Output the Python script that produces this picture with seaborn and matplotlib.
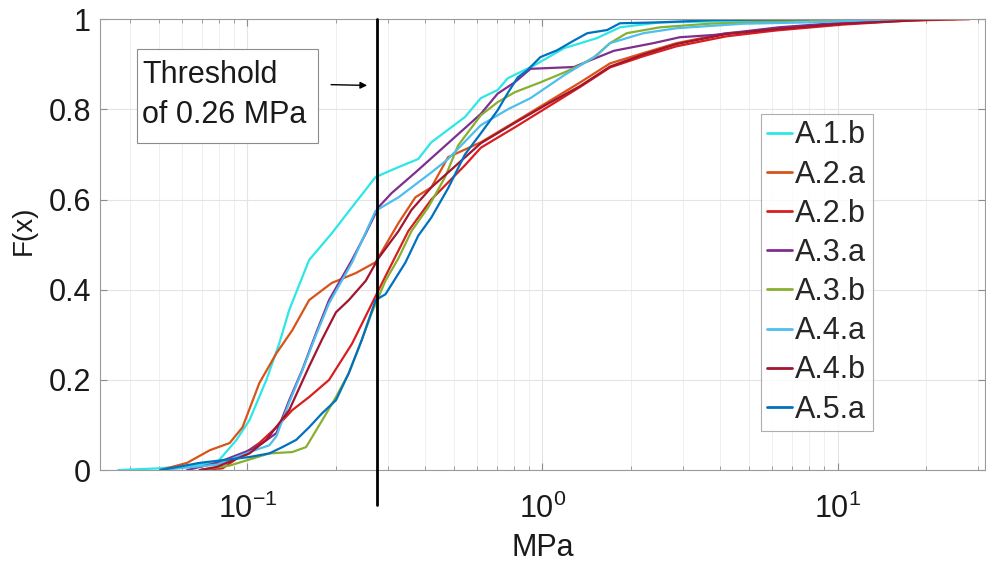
import matplotlib
matplotlib.use("Agg")
import matplotlib.pyplot as plt
from matplotlib.patches import Rectangle
import seaborn as sns
import pandas as pd
import numpy as np
from matplotlib.ticker import LogLocator, NullFormatter

# ---------------- data ----------------
series_names = ["A.1.b", "A.2.a", "A.2.b", "A.3.a", "A.3.b", "A.4.a", "A.4.b", "A.5.a"]

a1b_x = [0.0365, 0.0506, 0.0787, 0.0918, 0.1016, 0.1159, 0.1283, 0.1385, 0.1618, 0.193, 0.226, 0.2718,
         0.325, 0.3793, 0.4198, 0.5458, 0.618, 0.7047, 0.762, 0.94, 1.186, 1.53, 1.83, 2.50, 4.79, 7.98, 11.0]
a1b_f = [0, 0.004, 0.016, 0.067, 0.111, 0.2, 0.282, 0.355, 0.466, 0.525, 0.583, 0.650,
         0.672, 0.690, 0.727, 0.783, 0.825, 0.843, 0.869, 0.898, 0.936, 0.958, 0.982, 0.993, 0.996, 0.998, 1.0]

a2a_x = [0.0506, 0.0624, 0.0745, 0.0870, 0.0962, 0.1097, 0.1253, 0.1418, 0.1618, 0.193, 0.233, 0.2718, 0.325,
         0.3707, 0.4198, 0.4786, 0.618, 0.805, 1.04, 1.343, 1.694, 2.20, 2.85, 4.20, 6.18, 10.4, 17.3, 25]
a2a_f = [0, 0.016, 0.044, 0.060, 0.095, 0.193, 0.259, 0.310, 0.377, 0.415, 0.437, 0.461, 0.548,
         0.605, 0.627, 0.694, 0.727, 0.772, 0.816, 0.860, 0.902, 0.925, 0.947, 0.969, 0.976, 0.991, 0.998, 1.0]

a2b_x = [0.0689, 0.0824, 0.1097, 0.1253, 0.1418, 0.1618, 0.189, 0.226, 0.2576, 0.2936, 0.3508, 0.4198, 0.5458,
         0.618, 0.805, 1.04, 1.343, 1.694, 2.20, 2.85, 4.20, 6.18, 10.4, 17.3, 28]
a2b_f = [0, 0.004, 0.06, 0.095, 0.133, 0.162, 0.2, 0.28, 0.355, 0.43, 0.53, 0.60, 0.676,
         0.715, 0.76, 0.805, 0.85, 0.893, 0.918, 0.94, 0.962, 0.975, 0.988, 0.997, 1.0]

a3a_x = [0.0624, 0.0787, 0.1016, 0.1124, 0.1253, 0.1385, 0.1533, 0.1708, 0.189, 0.226, 0.2518, 0.278, 0.3076,
         0.3707, 0.4786, 0.618, 0.7047, 0.805, 0.911, 1.28, 1.452, 1.747, 2.38, 2.92, 3.80, 6.32, 10.6, 13.7, 20]
a3a_f = [0, 0.016, 0.044, 0.06, 0.082, 0.155, 0.222, 0.304, 0.377, 0.466, 0.525, 0.583, 0.614,
         0.660, 0.725, 0.790, 0.835, 0.860, 0.890, 0.894, 0.909, 0.930, 0.947, 0.960, 0.965, 0.982, 0.993, 0.998, 1.0]

a3b_x = [0.0689, 0.087, 0.1186, 0.1418, 0.158, 0.179, 0.1995, 0.2205, 0.2438, 0.2636, 0.2936, 0.325, 0.3597,
         0.41, 0.4677, 0.5176, 0.618, 0.7047, 0.805, 0.984, 1.186, 1.343, 1.497, 1.694, 1.93, 2.50, 3.68, 7.98, 15]
a3b_f = [0, 0.01, 0.037, 0.04, 0.051, 0.11, 0.162, 0.215, 0.288, 0.348, 0.42, 0.47, 0.53,
         0.583, 0.65, 0.72, 0.787, 0.816, 0.838, 0.86, 0.882, 0.898, 0.916, 0.947, 0.969, 0.982, 0.99, 0.998, 1.0]

a4a_x = [0.0506, 0.0787, 0.1016, 0.1186, 0.1253, 0.1385, 0.1533, 0.1708, 0.189, 0.226, 0.2718, 0.325, 0.4198,
         0.4786, 0.618, 0.762, 0.911, 1.186, 1.53, 1.694, 2.20, 2.85, 4.79, 7.98, 13.4, 20]
a4a_f = [0, 0.012, 0.04, 0.055, 0.075, 0.15, 0.22, 0.30, 0.37, 0.46, 0.575, 0.605, 0.66,
         0.69, 0.765, 0.80, 0.825, 0.876, 0.92, 0.947, 0.969, 0.98, 0.99, 0.993, 0.998, 1.0]

a4b_x = [0.0689, 0.0787, 0.1016, 0.1159, 0.1385, 0.1618, 0.179, 0.1995, 0.2205, 0.2518, 0.278, 0.325, 0.3597,
         0.4198, 0.4786, 0.618, 0.805, 1.04, 1.343, 1.694, 2.20, 2.85, 4.20, 6.18, 10.4, 22.6]
a4b_f = [0, 0.007, 0.037, 0.067, 0.133, 0.23, 0.29, 0.35, 0.377, 0.42, 0.47, 0.53, 0.577,
         0.627, 0.66, 0.725, 0.77, 0.812, 0.852, 0.895, 0.922, 0.945, 0.967, 0.978, 0.99, 1.0]

a5a_x = [0.0506, 0.0689, 0.1016, 0.1186, 0.1313, 0.1463, 0.1618, 0.179, 0.1995, 0.2205, 0.2438, 0.2718, 0.2936,
         0.3428, 0.3793, 0.4198, 0.4786, 0.5458, 0.618, 0.7047, 0.762, 0.824, 0.889, 0.984, 1.12, 1.28, 1.419,
         1.656, 1.83, 2.50, 3.80, 8]
a5a_f = [0, 0.016, 0.029, 0.037, 0.051, 0.067, 0.095, 0.126, 0.155, 0.215, 0.288, 0.377, 0.39,
         0.46, 0.52, 0.56, 0.625, 0.70, 0.747, 0.798, 0.836, 0.871, 0.887, 0.916, 0.931, 0.953, 0.969,
         0.976, 0.991, 0.993, 0.998, 1.0]

series_colors = ["#2ee6e6", "#d95319", "#d81e1e", "#7e2f8e", "#88b030", "#4dbeee", "#a2142f", "#0072bd"]

threshold = 0.275
threshold_lines = ["Threshold", "of 0.26 MPa"]
y_ticks = [0, 0.2, 0.4, 0.6, 0.8, 1]
y_tick_labels = ["0", "0.2", "0.4", "0.6", "0.8", "1"]
x_label = "MPa"
y_label = "F(x)"

# ---------------- build long table ----------------
xs = [a1b_x, a2a_x, a2b_x, a3a_x, a3b_x, a4a_x, a4b_x, a5a_x]
fs = [a1b_f, a2a_f, a2b_f, a3a_f, a3b_f, a4a_f, a4b_f, a5a_f]
frames = []
for name, x, f in zip(series_names, xs, fs):
    frames.append(pd.DataFrame({"MPa": x, "F": f, "series": name}))
df = pd.concat(frames, ignore_index=True)

# ---------------- style ----------------
sns.set_style("ticks")
plt.rcParams["font.family"] = ["Liberation Sans", "DejaVu Sans"]
plt.rcParams["mathtext.fontset"] = "custom"
plt.rcParams["mathtext.rm"] = "Liberation Sans"
plt.rcParams["mathtext.it"] = "Liberation Sans:italic"
plt.rcParams["mathtext.bf"] = "Liberation Sans:bold"

TXT = "#1a1a1a"
fig = plt.figure(figsize=(9.86, 5.65), dpi=100)
ax = fig.add_axes([0.1014, 0.168, 0.8976, 0.798])
ax.set_xscale("log")

palette = dict(zip(series_names, series_colors))
sns.lineplot(data=df, x="MPa", y="F", hue="series", hue_order=series_names,
             palette=palette, estimator=None, sort=False, linewidth=1.6, ax=ax)

ax.set_xlim(10 ** -1.5, 10 ** 1.5)
ax.set_ylim(0, 1)

# grid
ax.xaxis.set_minor_locator(LogLocator(base=10, subs=np.arange(2, 10)))
ax.xaxis.set_minor_formatter(NullFormatter())
ax.set_yticks(y_ticks)
ax.set_yticklabels(y_tick_labels)
ax.grid(True, which="major", axis="both", color="#e4e4e4", linewidth=0.8)
ax.grid(True, which="minor", axis="x", color="#ededed", linewidth=0.6)
ax.set_axisbelow(True)

ax.tick_params(which="both", direction="in", top=True, right=True, colors="#8c8c8c",
               labelcolor=TXT, labelsize=22)
ax.tick_params(which="major", length=5, width=0.8)
ax.tick_params(which="minor", length=3, width=0.6)
ax.tick_params(axis="x", which="major", pad=17)
ax.tick_params(axis="y", which="major", pad=6.5)
for s in ax.spines.values():
    s.set_color("#9a9a9a")
    s.set_linewidth(0.8)

ax.set_xlabel(x_label, fontsize=22, color=TXT, labelpad=6)
ax.set_ylabel(y_label, fontsize=20, color=TXT)
ax.yaxis.set_label_coords(-0.071, 0.532)

# threshold line (extends below axis)
ax.plot([threshold, threshold], [-0.078, 1.0], color="black", linewidth=2.0, clip_on=False, zorder=5)

# annotation box
ax.add_patch(Rectangle((0.0418, 0.725), 0.2045, 0.2085, transform=ax.transAxes,
                       facecolor="white", edgecolor="#8c8c8c", linewidth=0.8, zorder=6))
ax.text(0.0475, 0.858, threshold_lines[0], transform=ax.transAxes, fontsize=22, color=TXT,
        ha="left", va="baseline", zorder=7)
ax.text(0.0475, 0.769, threshold_lines[1], transform=ax.transAxes, fontsize=22, color=TXT,
        ha="left", va="baseline", zorder=7)
ax.annotate("", xy=(0.305, 0.853), xytext=(0.258, 0.855), xycoords="axes fraction",
            arrowprops=dict(arrowstyle="-|>", color="black", lw=1.0, mutation_scale=10), zorder=6)

# legend
handles, labels = ax.get_legend_handles_labels()
leg = ax.legend(handles, labels, loc="upper left", bbox_to_anchor=(0.747, 0.789),
                fontsize=22, frameon=True, fancybox=False, edgecolor="#9a9a9a",
                handlelength=0.8, handletextpad=0.12, labelspacing=0.3, borderpad=0.2,
                borderaxespad=0.0)
leg.get_frame().set_linewidth(0.8)
for line in leg.get_lines():
    line.set_linewidth(2.0)

fig.savefig("out.png", dpi=100)
